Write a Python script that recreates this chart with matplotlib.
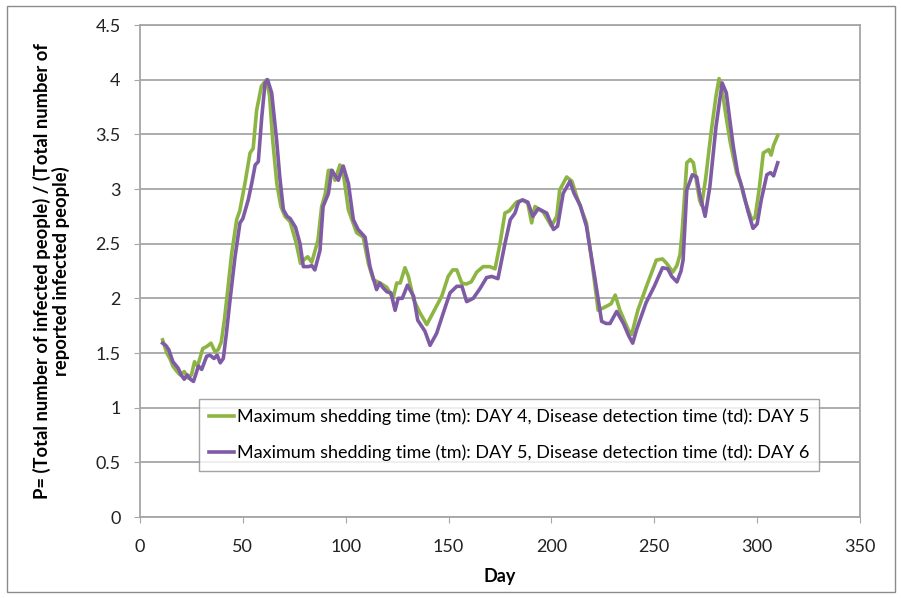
import matplotlib
matplotlib.use("Agg")
import matplotlib.pyplot as plt
from matplotlib.patches import Rectangle

plt.rcParams['font.family'] = ['Lato', 'DejaVu Sans']

days_a = [11, 13, 14.5, 16, 18, 19.5, 21.5, 23.5, 25, 26.5, 28, 30.5, 32.5, 34.5, 36.5, 38, 39.5, 41, 42.5, 44.5,
          47, 48.5, 51, 53.5, 55, 56.7, 59, 61.5, 63, 64.5, 66.5, 68.5, 70.5, 73, 76, 78, 79.5, 81.5, 83.5, 86.5,
          88.3, 90, 91.6, 93.5, 94.8, 97.2, 99, 101.3, 103, 105.3, 108.5, 111, 113.4, 116.7, 120, 121.5, 123, 124.8,
          126.5, 128.8, 130.5, 133, 136, 139.4, 142.5, 146.7, 149.8, 152, 154, 156.4, 158.5, 161, 163.7, 166.8, 170,
          172.6, 175, 177.4, 179.5, 183, 186, 188.5, 190.4, 192, 196, 200, 202.6, 204, 207.4, 210, 212.3, 217, 220,
          222.7, 226, 229, 231, 233.3, 237.4, 239, 242, 246, 249, 251, 254, 256, 259, 261, 262.5, 263.5, 265.8,
          267.5, 269, 272, 273, 275, 277.5, 280, 281.5, 283, 285, 287, 290, 292, 294, 297.4, 299, 301, 303, 305.6,
          306.8, 308, 310]
vals_a = [1.62, 1.50, 1.45, 1.38, 1.33, 1.30, 1.33, 1.27, 1.30, 1.42, 1.38, 1.54, 1.56, 1.59, 1.51, 1.53, 1.60, 1.80,
          2.05, 2.40, 2.72, 2.80, 3.05, 3.33, 3.37, 3.72, 3.94, 4.00, 3.85, 3.45, 3.05, 2.84, 2.75, 2.70, 2.50, 2.32,
          2.35, 2.38, 2.33, 2.53, 2.84, 2.95, 3.17, 3.17, 3.08, 3.22, 3.12, 2.81, 2.72, 2.60, 2.56, 2.32, 2.17, 2.14,
          2.10, 2.05, 2.00, 2.14, 2.14, 2.28, 2.20, 1.99, 1.87, 1.76, 1.87, 2.02, 2.20, 2.26, 2.26, 2.14, 2.13, 2.15,
          2.24, 2.29, 2.29, 2.27, 2.50, 2.78, 2.80, 2.88, 2.90, 2.87, 2.69, 2.84, 2.79, 2.66, 2.75, 2.99, 3.11, 3.07,
          2.93, 2.69, 2.29, 1.89, 1.92, 1.95, 2.03, 1.89, 1.71, 1.67, 1.89, 2.10, 2.25, 2.35, 2.36, 2.32, 2.24, 2.30,
          2.40, 2.60, 3.24, 3.27, 3.24, 2.90, 2.85, 3.10, 3.50, 3.85, 4.01, 3.90, 3.65, 3.42, 3.15, 3.05, 2.90, 2.72,
          2.74, 3.00, 3.33, 3.36, 3.31, 3.40, 3.49]

days_b = [11, 12.5, 14, 16, 18.6, 20, 21.5, 23, 24.5, 26, 28.4, 30, 32.4, 34, 36, 37.5, 39, 40.5, 42, 43.8, 46.2,
          48.6, 50, 52.6, 54.3, 56, 57.5, 59.2, 60.8, 62, 64, 66.4, 68, 69.7, 71.5, 73, 75.6, 77.8, 79.4, 82, 83.5,
          85, 87.5, 89, 91.6, 93.2, 96.4, 98.8, 101.3, 103.7, 106, 109.4, 111.8, 115, 116.5, 118, 120, 122, 124,
          125.5, 127.5, 130, 133, 135, 138.5, 141, 144.2, 147.5, 150.7, 154, 156.5, 158.8, 162, 165.3, 168.5, 171,
          174, 177.4, 180, 182.3, 184, 186, 188.5, 191, 193.6, 197.7, 201, 203, 205.7, 209, 211, 214, 217, 221,
          224.4, 226.5, 228.5, 231.7, 235, 237.5, 239.5, 241.5, 243, 246, 250, 254, 256.5, 258.5, 261, 263, 264,
          265.8, 268.5, 270.6, 272, 274.7, 277, 280, 283, 285, 288.4, 290.5, 293, 295.5, 298, 300, 302, 304.7,
          306.5, 308, 310]
vals_b = [1.59, 1.57, 1.53, 1.42, 1.36, 1.30, 1.26, 1.30, 1.26, 1.24, 1.38, 1.35, 1.47, 1.48, 1.45, 1.48, 1.41, 1.45,
          1.68, 1.99, 2.38, 2.69, 2.73, 2.90, 3.05, 3.22, 3.25, 3.66, 3.97, 4.00, 3.88, 3.45, 3.10, 2.81, 2.75, 2.73,
          2.65, 2.50, 2.29, 2.29, 2.30, 2.26, 2.44, 2.84, 2.96, 3.17, 3.08, 3.21, 3.05, 2.72, 2.63, 2.56, 2.29, 2.08,
          2.14, 2.10, 2.06, 2.05, 1.89, 2.00, 2.00, 2.12, 2.02, 1.80, 1.70, 1.57, 1.68, 1.87, 2.05, 2.11, 2.11, 1.97,
          2.00, 2.09, 2.19, 2.20, 2.18, 2.50, 2.72, 2.78, 2.88, 2.90, 2.88, 2.75, 2.82, 2.78, 2.63, 2.66, 2.96, 3.07,
          2.96, 2.85, 2.66, 2.20, 1.79, 1.77, 1.77, 1.88, 1.77, 1.66, 1.59, 1.72, 1.80, 1.96, 2.11, 2.28, 2.27, 2.20,
          2.15, 2.25, 2.35, 2.99, 3.13, 3.11, 2.96, 2.75, 3.02, 3.57, 3.97, 3.88, 3.39, 3.15, 2.99, 2.80, 2.64, 2.68,
          2.90, 3.13, 3.15, 3.12, 3.24]

label_a = "Maximum shedding time (tm): DAY 4, Disease detection time (td): DAY 5"
label_b = "Maximum shedding time (tm): DAY 5, Disease detection time (td): DAY 6"
x_ticks = [0, 50, 100, 150, 200, 250, 300, 350]
y_ticks = [0, 0.5, 1, 1.5, 2, 2.5, 3, 3.5, 4, 4.5]
y_tick_labels = ["0", "0.5", "1", "1.5", "2", "2.5", "3", "3.5", "4", "4.5"]

green = "#8DB544"
purple = "#7F5BA6"
gridc = "#A6A6A6"

fig = plt.figure(figsize=(9.01, 5.98), dpi=100)
fig.patches.append(Rectangle((7/901, 6/598), 888/901, 586/598, transform=fig.transFigure,
                             fill=False, edgecolor="#8C8C8C", linewidth=1.0))
ax = fig.add_axes([140/901, 1 - 517/598, 720/901, 492/598])

ax.plot(days_a, vals_a, color=green, lw=2.6, label=label_a, solid_joinstyle="round", zorder=3)
ax.plot(days_b, vals_b, color=purple, lw=2.6, label=label_b, solid_joinstyle="round", zorder=3)

ax.set_xlim(0, 350)
ax.set_ylim(0, 4.5)
ax.set_xticks(x_ticks)
ax.set_yticks(y_ticks)
ax.set_yticklabels(y_tick_labels)
ax.yaxis.grid(True, color=gridc, lw=1.3)
ax.set_axisbelow(True)
for s in ax.spines.values():
    s.set_color(gridc)
    s.set_linewidth(1.3)
ax.tick_params(axis="both", direction="out", length=4, color=gridc, labelsize=13, labelcolor="#222222")
ax.tick_params(axis="y", pad=10)
ax.tick_params(axis="x", pad=12)

ax.set_xlabel("Day", fontsize=13, fontweight="bold", labelpad=9)
ax.set_ylabel("P= (Total number of infected people) / (Total number of\nreported infected people)",
              fontsize=13.2, fontweight="bold", labelpad=18, linespacing=1.05)

leg = ax.legend(loc="upper left", bbox_to_anchor=((199 - 140) / 720, (517 - 399) / 492), fontsize=13.0,
                frameon=True, fancybox=False, edgecolor="#8C8C8C", handlelength=1.4, handletextpad=0.15,
                borderpad=0.55, labelspacing=1.05, borderaxespad=0)
leg.get_frame().set_linewidth(1.0)

fig.savefig("out.png", dpi=100)
